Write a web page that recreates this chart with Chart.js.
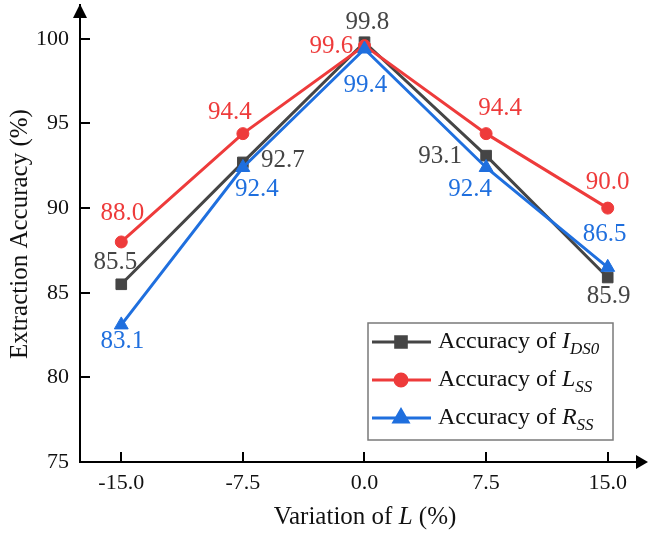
<!DOCTYPE html>
<html>
<head>
<meta charset="utf-8">
<script src="https://cdn.jsdelivr.net/npm/chart.js@4.4.0/dist/chart.umd.min.js"></script>
<style>
    html, body { margin: 0; padding: 0; background: #fff; }
    #wrap { width: 649px; height: 540px; }
</style>
</head>
<body>
<div id="wrap"><canvas id="myChart" width="649" height="540"></canvas></div>
<script>
// datos
const variation = [-15, -7.5, 0, 7.5, 15];
const xTickLabels = ['-15.0', '-7.5', '0.0', '7.5', '15.0'];
const yTicks = [75, 80, 85, 90, 95, 100];
const accIDS0 = [85.5, 92.7, 99.8, 93.1, 85.9];
const accLSS = [88.0, 94.4, 99.6, 94.4, 90.0];
const accRSS = [83.1, 92.4, 99.4, 92.4, 86.5];

const FONT = "'Liberation Serif', 'Times New Roman', serif";
const GRAY = '#454545';
const RED = '#ee3b3b';
const BLUE = '#1f6fde';

// desplazamiento de etiquetas (px) respecto a cada punto
const offsIDS0 = [[-6, -22], [40, -2], [3, -20], [-46, 1], [1, 19]];
const offsLSS = [[1, -29], [-13, -21], [-33, 1], [14, -25], [0, -26]];
const offsRSS = [[1, 17], [14, 22], [1, 36], [-16, 22], [-3, -33]];

const legendItems = [
    { color: GRAY, style: 'rect', radius: 7.5, main: 'I', sub: 'DS0' },
    { color: RED, style: 'circle', radius: 6, main: 'L', sub: 'SS' },
    { color: BLUE, style: 'triangle', radius: 8, main: 'R', sub: 'SS' }
];

function pts(arr) {
    return variation.map((v, i) => ({ x: v, y: arr[i] }));
}

function fixBox(w, h) {
    return s => {
        if (w) s.width = w;
        if (h) s.height = h;
        s.paddingTop = 0; s.paddingBottom = 0; s.paddingLeft = 0; s.paddingRight = 0;
    };
}

const decorPlugin = {
    id: 'decor',
    afterDatasetsDraw(chart) {
        const ctx = chart.ctx;
        const labelSets = [offsIDS0, offsLSS, offsRSS];
        ctx.save();
        ctx.font = '25px ' + FONT;
        ctx.textAlign = 'center';
        ctx.textBaseline = 'middle';
        chart.data.datasets.forEach((ds, di) => {
            const meta = chart.getDatasetMeta(di);
            meta.data.forEach((p, i) => {
                ctx.fillStyle = ds.borderColor;
                ctx.fillText(ds.data[i].y.toFixed(1), p.x + labelSets[di][i][0], p.y + labelSets[di][i][1]);
            });
        });
        ctx.restore();
    },
    afterDraw(chart) {
        const ctx = chart.ctx;
        const a = chart.chartArea;
        const xs = chart.scales.x, ys = chart.scales.y;
        ctx.save();
        ctx.strokeStyle = '#000';
        ctx.fillStyle = '#000';
        ctx.lineWidth = 2;
        // ticks hacia dentro
        ys.ticks.forEach(t => {
            const py = Math.round(ys.getPixelForValue(t.value));
            ctx.beginPath(); ctx.moveTo(a.left, py); ctx.lineTo(a.left + 10, py); ctx.stroke();
        });
        xs.ticks.forEach(t => {
            const px = Math.round(xs.getPixelForValue(t.value));
            ctx.beginPath(); ctx.moveTo(px, a.bottom); ctx.lineTo(px, a.bottom - 10); ctx.stroke();
        });
        // flechas
        ctx.beginPath();
        ctx.moveTo(a.left - 7, a.top + 13); ctx.lineTo(a.left + 7, a.top + 13); ctx.lineTo(a.left, a.top - 1);
        ctx.closePath(); ctx.fill();
        ctx.beginPath();
        ctx.moveTo(a.right, a.bottom - 7); ctx.lineTo(a.right, a.bottom + 7); ctx.lineTo(a.right + 12, a.bottom);
        ctx.closePath(); ctx.fill();

        // titulos
        ctx.fillStyle = '#111';
        ctx.textBaseline = 'middle';
        ctx.save();
        ctx.translate(20, 234);
        ctx.rotate(-Math.PI / 2);
        ctx.textAlign = 'center';
        ctx.font = '25px ' + FONT;
        ctx.fillText('Extraction Accuracy (%)', 0, 0);
        ctx.restore();

        const parts = [['Variation of ', ''], ['L', 'italic '], [' (%)', '']];
        let w = 0;
        parts.forEach(pp => { ctx.font = pp[1] + '25px ' + FONT; w += ctx.measureText(pp[0]).width; });
        let tx = 365 - w / 2;
        ctx.textAlign = 'left';
        parts.forEach(pp => {
            ctx.font = pp[1] + '25px ' + FONT;
            ctx.fillText(pp[0], tx, 517);
            tx += ctx.measureText(pp[0]).width;
        });

        // leyenda
        ctx.strokeStyle = '#7a7a7a';
        ctx.lineWidth = 1.5;
        ctx.strokeRect(368, 323, 245, 117);
        legendItems.forEach((it, i) => {
            const y = 342 + i * 38;
            ctx.strokeStyle = it.color;
            ctx.fillStyle = it.color;
            ctx.lineWidth = 3;
            ctx.beginPath(); ctx.moveTo(372, y); ctx.lineTo(431, y); ctx.stroke();
            Chart.helpers.drawPoint(ctx, { pointStyle: it.style, radius: it.radius, rotation: 0, borderWidth: 1 }, 401, y);
            ctx.fillStyle = '#111';
            let lx = 438;
            ctx.font = '24px ' + FONT;
            ctx.fillText('Accuracy of ', lx, y);
            lx += ctx.measureText('Accuracy of ').width;
            ctx.font = 'italic 24px ' + FONT;
            ctx.fillText(it.main, lx, y);
            lx += ctx.measureText(it.main).width;
            ctx.font = 'italic 17px ' + FONT;
            ctx.fillText(it.sub, lx, y + 8);
        });
        ctx.restore();
    }
};

const ctx = document.getElementById('myChart').getContext('2d');
const myChart = new Chart(ctx, {
    type: 'line',
    data: {
        datasets: [{
            label: 'Accuracy of IDS0',
            data: pts(accIDS0),
            borderColor: GRAY,
            backgroundColor: GRAY,
            pointStyle: 'rect',
            pointRadius: 7.5,
            order: 3
        }, {
            label: 'Accuracy of LSS',
            data: pts(accLSS),
            borderColor: RED,
            backgroundColor: RED,
            pointStyle: 'circle',
            pointRadius: 6,
            order: 2
        }, {
            label: 'Accuracy of RSS',
            data: pts(accRSS),
            borderColor: BLUE,
            backgroundColor: BLUE,
            pointStyle: 'triangle',
            pointRadius: 8,
            order: 1
        }]
    },
    options: {
        responsive: false,
        animation: false,
        devicePixelRatio: 1,
        layout: { autoPadding: false, padding: { top: 5, right: 13, left: 0, bottom: 0 } },
        elements: {
            line: { borderWidth: 3, tension: 0 },
            point: { borderWidth: 1, hoverRadius: 7 }
        },
        plugins: {
            legend: { display: false },
            tooltip: { enabled: false }
        },
        scales: {
            x: {
                type: 'linear',
                min: -17.545,
                max: 16.744,
                afterFit: fixBox(0, 78),
                afterBuildTicks: s => { s.ticks = variation.map(v => ({ value: v })); },
                grid: { display: false, drawTicks: false },
                border: { display: true, color: '#000', width: 2 },
                ticks: {
                    padding: 8,
                    color: '#111',
                    font: { family: FONT, size: 22 },
                    callback: v => xTickLabels[variation.indexOf(v)]
                }
            },
            y: {
                min: 75,
                max: 102,
                afterFit: fixBox(80, 0),
                afterBuildTicks: s => { s.ticks = yTicks.map(v => ({ value: v })); },
                grid: { display: false, drawTicks: false },
                border: { display: true, color: '#000', width: 2 },
                ticks: {
                    padding: 11,
                    color: '#111',
                    font: { family: FONT, size: 22 }
                }
            }
        }
    },
    plugins: [decorPlugin]
});
</script>
</body>
</html>
